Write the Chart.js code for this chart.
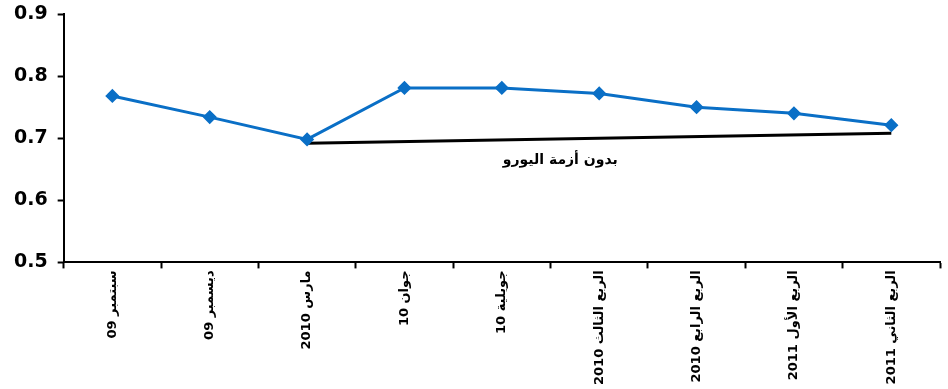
<!DOCTYPE html>
<html>
<head>
<meta charset="utf-8">
<script src="https://cdn.jsdelivr.net/npm/chart.js@4.4.0/dist/chart.umd.min.js"></script>
<style>
  html, body { margin: 0; padding: 0; background: #fff; }
  #wrap { width: 948px; height: 389px; }
</style>
</head>
<body>
<div id="wrap"><canvas id="myChart"></canvas></div>
<script>
// values
var labels = ['سبتمبر 09', 'ديسمبر 09', 'مارس 2010', 'جوان 10', 'جويلية 10',
  'الربع الثالث 2010', 'الربع الرابع 2010', 'الربع الأول 2011', 'الربع الثاني 2011'];
var actual = [0.768, 0.734, 0.698, 0.781, 0.781, 0.772, 0.75, 0.74, 0.721];
var noEuroCrisis = [null, null, 0.692, null, null, null, null, null, 0.708];
var noEuroLabel = 'بدون أزمة اليورو';
var yTicks = [0.5, 0.6, 0.7, 0.8, 0.9];

// writes the "no euro crisis" note under the black line
var notePlugin = {
  id: 'note',
  afterDatasetsDraw: function(chart) {
    var c = chart.ctx;
    var x = chart.scales.x.getPixelForValue(4.6);
    var y = chart.scales.y.getPixelForValue(0.665);
    c.save();
    c.font = 'bold 14px "DejaVu Sans"';
    c.fillStyle = '#000';
    c.textAlign = 'center';
    c.textBaseline = 'middle';
    c.fillText(noEuroLabel, x, y);
    c.restore();
  }
};

var ctx = document.getElementById('myChart');
var config = {
  type: 'line',
  data: {
    labels: labels,
    datasets: [{
      data: actual,
      borderColor: '#0a6fc6',
      backgroundColor: '#0a6fc6',
      borderWidth: 3,
      tension: 0,
      pointStyle: 'rectRot',
      pointRadius: 5,
      pointBackgroundColor: '#0a6fc6',
      pointBorderColor: '#0a6fc6'
    }, {
      data: noEuroCrisis,
      borderColor: '#000',
      borderWidth: 3,
      spanGaps: true,
      tension: 0,
      pointRadius: 0
    }]
  },
  options: {
    responsive: true,
    maintainAspectRatio: false,
    animation: false,
    layout: { padding: { top: 14, right: 0, left: 4, bottom: 2 } },
    plugins: { legend: { display: false }, tooltip: { enabled: false } },
    scales: {
      x: {
        offset: true,
        grid: { offset: true, drawOnChartArea: false, color: '#000', tickLength: 6, tickWidth: 2 },
        border: { color: '#000', width: 2 },
        ticks: {
          color: '#000',
          minRotation: 90, maxRotation: 90,
          padding: 2,
          font: { family: '"DejaVu Sans"', size: 13, weight: 'bold' }
        }
      },
      y: {
        min: 0.5, max: 0.9,
        afterBuildTicks: function(axis) {
          axis.ticks = yTicks.map(function(v) { return { value: v }; });
        },
        afterFit: function(axis) {
          axis.paddingTop = 0;
        },
        grid: { drawOnChartArea: false, color: '#000', tickLength: 6, tickWidth: 2 },
        border: { color: '#000', width: 2 },
        ticks: {
          color: '#000',
          padding: 10,
          callback: function(v) { return v.toFixed(1); },
          font: { family: '"DejaVu Sans"', size: 19, weight: 'bold' }
        }
      }
    }
  },
  plugins: [notePlugin]
};
var myChart = new Chart(ctx, config);
</script>
</body>
</html>
